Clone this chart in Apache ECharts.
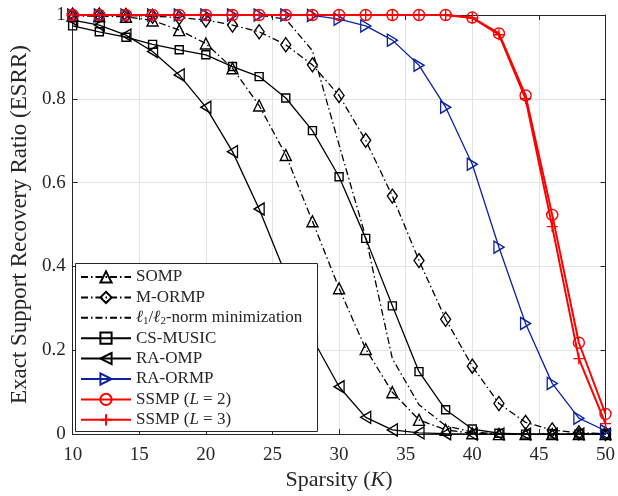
<!DOCTYPE html>
<html>
<head>
<meta charset="utf-8">
<script src="https://cdn.jsdelivr.net/npm/echarts@6/dist/echarts.min.js"></script>
<style>
html,body{margin:0;padding:0;background:#fff;}
#chart{width:618px;height:496px;}
</style>
</head>
<body>
<div id="chart"></div>
<script>
// Sparsity K
var sparsity = [10,12,14,16,18,20,22,24,26,28,30,32,34,36,38,40,42,44,46,48,50];
var xTickValues = [10,15,20,25,30,35,40,45,50];
var yTickLabels = ['0','0.2','0.4','0.6','0.8','1'];

var seriesNames = ['SOMP','M-ORMP','l1l2','CS-MUSIC','RA-OMP','RA-ORMP','SSMP2','SSMP3'];

var somp    = [0.998,0.997,0.996,0.987,0.964,0.932,0.873,0.784,0.666,0.508,0.348,0.203,0.100,0.034,0.010,0.002,0,0,0,0,0];
var mormp   = [1.000,1.000,0.999,0.997,0.994,0.988,0.976,0.960,0.929,0.881,0.808,0.701,0.568,0.414,0.274,0.162,0.073,0.028,0.010,0.003,0.001];
var l1l2    = [1.000,1.000,1.000,1.000,1.000,1.000,1.000,1.000,0.990,0.915,0.690,0.470,0.180,0.070,0.020,0.005,0,0,0,0,0];
var csmusic = [0.974,0.960,0.947,0.930,0.917,0.905,0.877,0.853,0.802,0.724,0.614,0.467,0.306,0.149,0.058,0.012,0.002,0,0,0,0];
var raomp   = [0.988,0.976,0.952,0.913,0.857,0.780,0.674,0.537,0.380,0.228,0.113,0.040,0.010,0.003,0.001,0,0,0,0,0,0];
var raormp  = [1,1,1,1,1,1,1,1,1,0.999,0.990,0.974,0.940,0.880,0.780,0.644,0.446,0.264,0.121,0.038,0.008];
var ssmp2   = [1,1,1,1,1,1,1,1,1,1,1,1,1,1,1,0.994,0.956,0.808,0.523,0.218,0.048];
var ssmp3   = [1,1,1,1,1,1,1,1,1,1,1,1,1,1,1,0.993,0.953,0.800,0.495,0.180,0.025];

var FONT = 'Liberation Serif';
var TXT = '#262626';
function pairs(arr){ return sparsity.map(function(k,i){ return [k, arr[i]]; }); }

var DASHDOT = [7,3,1.5,3];
var BLUE = '#0b23a0';
var RED = '#ff0000';

function mk(name, data, color, lineType, symbol, size, lw, hideSymbol){
  return {
    name: name, type: 'line', data: pairs(data),
    symbol: symbol, symbolSize: size, showSymbol: !hideSymbol,
    lineStyle: {color: color, width: lw, type: lineType},
    itemStyle: {color: 'rgba(255,255,255,0)', borderColor: hideSymbol ? 'rgba(0,0,0,0)' : color, borderWidth: 1.4},
    emphasis: {disabled: true},
    animation: false, z: 3
  };
}

var leftTri = 'path://M10,0L0,6L10,12Z';
var rightTri = 'path://M0,0L10,6L0,12Z';
var plus = 'path://M5,0L5,10M0,5L10,5';

var series = [
  mk('SOMP', somp, '#000', DASHDOT, 'triangle', 11, 1.3),
  mk('M-ORMP', mormp, '#000', DASHDOT, 'diamond', [10,14], 1.3),
  mk('l1l2', l1l2, '#000', DASHDOT, 'circle', 1, 1.3, true),
  mk('CS-MUSIC', csmusic, '#000', 'solid', 'rect', 8, 1.3),
  mk('RA-OMP', raomp, '#000', 'solid', leftTri, [10,12], 1.3),
  mk('RA-ORMP', raormp, BLUE, 'solid', rightTri, [10,12], 1.3),
  mk('SSMP2', ssmp2, RED, 'solid', 'circle', 11, 2),
  mk('SSMP3', ssmp3, RED, 'solid', plus, 11, 2)
];

var legendLabels = {
  'SOMP': 'SOMP',
  'M-ORMP': 'M-ORMP',
  'l1l2': '{it|ℓ}{sub|1}/{it|ℓ}{sub|2}-norm minimization',
  'CS-MUSIC': 'CS-MUSIC',
  'RA-OMP': 'RA-OMP',
  'RA-ORMP': 'RA-ORMP',
  'SSMP2': 'SSMP ({it|L} = 2)',
  'SSMP3': 'SSMP ({it|L} = 3)'
};

var chart = echarts.init(document.getElementById('chart'), null, {renderer: 'canvas'});
chart.setOption({
  animation: false,
  backgroundColor: '#fff',
  grid: {left: 70, right: 11, top: 15, bottom: 60, containLabel: false},
  xAxis: [{
    type: 'value', min: 10, max: 50, interval: 5, position: 'bottom',
    name: 'Sparsity ({it|K})', nameLocation: 'middle', nameGap: 30,
    nameTextStyle: {fontFamily: FONT, fontSize: 22, color: TXT,
      rich: {it: {fontFamily: FONT, fontStyle: 'italic', fontSize: 22, color: TXT}}},
    axisLine: {show: true, onZero: false, lineStyle: {color: TXT, width: 1}},
    axisTick: {show: true, inside: true, length: 5, lineStyle: {color: TXT}},
    axisLabel: {fontFamily: FONT, fontSize: 19, color: TXT, margin: 11},
    splitLine: {show: true, lineStyle: {color: '#e3e3e3', width: 1}}
  },{
    type: 'value', min: 10, max: 50, interval: 5, position: 'top',
    axisLine: {show: true, onZero: false, lineStyle: {color: TXT, width: 1}},
    axisTick: {show: true, inside: true, length: 5, lineStyle: {color: TXT}},
    axisLabel: {show: false}, splitLine: {show: false}
  }],
  yAxis: [{
    type: 'value', min: 0, max: 1, interval: 0.2, position: 'left',
    name: 'Exact Support Recovery Ratio (ESRR)', nameLocation: 'middle', nameGap: 36, nameRotate: 90,
    nameTextStyle: {fontFamily: FONT, fontSize: 23, color: TXT},
    axisLine: {show: true, onZero: false, lineStyle: {color: TXT, width: 1}},
    axisTick: {show: true, inside: true, length: 5, lineStyle: {color: TXT}},
    axisLabel: {fontFamily: FONT, fontSize: 19, color: TXT, margin: 7,
      formatter: function(v){ return yTickLabels[Math.round(v/0.2)]; }},
    splitLine: {show: true, lineStyle: {color: '#e3e3e3', width: 1}}
  },{
    type: 'value', min: 0, max: 1, interval: 0.2, position: 'right',
    axisLine: {show: true, onZero: false, lineStyle: {color: TXT, width: 1}},
    axisTick: {show: true, inside: true, length: 5, lineStyle: {color: TXT}},
    axisLabel: {show: false}, splitLine: {show: false}
  }],
  graphic: [{
    type: 'rect', left: 75, top: 263, z: 10,
    shape: {width: 242, height: 168},
    style: {fill: '#fff', stroke: TXT, lineWidth: 1}
  }],
  legend: {
    data: seriesNames, orient: 'vertical', left: 75, top: 263, z: 20,
    padding: [5.5, 5, 5, 5], itemWidth: 50, itemHeight: 14, itemGap: 3.4,
    selectedMode: false,
    formatter: function(n){ return legendLabels[n]; },
    textStyle: {fontFamily: FONT, fontSize: 17, color: TXT,
      rich: {
        it: {fontFamily: FONT, fontStyle: 'italic', fontSize: 17, color: TXT},
        sub: {fontFamily: FONT, fontSize: 11, color: TXT, verticalAlign: 'bottom', padding: [6,0,0,0]}
      }}
  },
  series: series
});
</script>
</body>
</html>
